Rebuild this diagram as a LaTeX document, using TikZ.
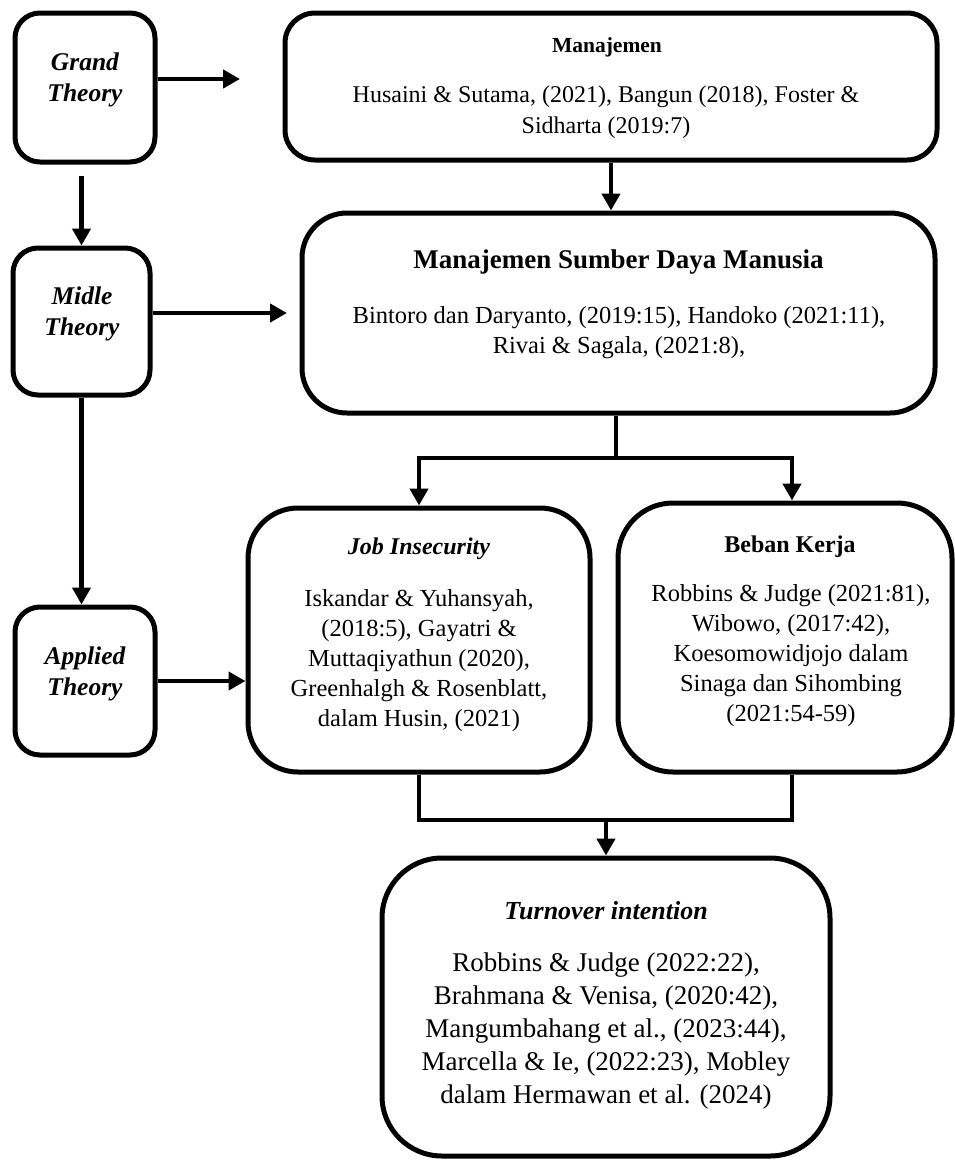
\documentclass[tikz,border=0pt]{standalone}
\usepackage{fontspec}
\setmainfont{Liberation Serif}
\usetikzlibrary{arrows.meta}
\begin{document}
\begin{tikzpicture}[x=1pt,y=-1pt,
  box/.style={draw, line width=5pt, rounded corners=#1, inner sep=0pt},
  box/.default=25pt,
  link/.style={line width=4.5pt},
  arrow/.style={line width=4.5pt, -{Triangle[length=17pt,width=18pt]}},
  theory/.style={align=center, inner sep=0pt, font=\fontsize{25.5}{31}\selectfont\bfseries\itshape},
  body/.style={align=center, inner sep=0pt, font=\fontsize{24.5}{30}\selectfont},
  head/.style={align=center, inner sep=0pt, font=\fontsize{24}{28}\selectfont\bfseries},
  headit/.style={align=center, inner sep=0pt, font=\fontsize{24}{28}\selectfont\bfseries\itshape}]
\useasboundingbox (0,0) rectangle (955,1160);

% boxes
\node[box=25pt, minimum width=140pt, minimum height=149pt] (grand) at (85,87.5) {};
\node[box=30pt, minimum width=652pt, minimum height=147pt] (mgmt) at (611,86.5) {};
\node[box=45pt, minimum width=633pt, minimum height=200pt] (sdm) at (618.5,313) {};
\node[box=25pt, minimum width=137pt, minimum height=147pt] (midle) at (81.5,321.5) {};
\node[box=25pt, minimum width=140pt, minimum height=148pt] (applied) at (85,681) {};
\node[box=50pt, minimum width=342pt, minimum height=264pt] (job) at (419,640) {};
\node[box=55pt, minimum width=334pt, minimum height=269pt] (beban) at (785,637.5) {};
\node[box=60pt, minimum width=448pt, minimum height=298pt] (turn) at (606,1007) {};

% texts
\node[theory] (grandT) at (85,80) {Grand\\Theory};
\node[theory] (midleT) at (82,314) {Midle\\Theory};
\node[theory] (appliedT) at (85,674) {Applied\\Theory};

\node[align=center, inner sep=0pt, font=\fontsize{21.5}{26}\selectfont\bfseries] (mgmtH) at (607,47) {Manajemen};
\node[body, font=\fontsize{24}{31}\selectfont] (mgmtB) at (606,112) {Husaini \& Sutama, (2021), Bangun (2018), Foster \&\\Sidharta (2019:7)};

\node[align=center, inner sep=0pt, font=\fontsize{27}{32}\selectfont\bfseries] (sdmH) at (618.5,262) {Manajemen Sumber Daya Manusia};
\node[body] (sdmB) at (619,333) {Bintoro dan Daryanto, (2019:15), Handoko (2021:11),\\Rivai \& Sagala, (2021:8),};

\node[headit] (jobH) at (419,549) {Job Insecurity};
\node[body] (jobB) at (419,661) {Iskandar \& Yuhansyah,\\(2018:5), Gayatri \&\\Muttaqiyathun (2020),\\Greenhalgh \& Rosenblatt,\\dalam Husin, (2021)};

\node[head] (bebanH) at (790,547) {Beban Kerja};
\node[body] (bebanB) at (791,656) {Robbins \& Judge (2021:81),\\Wibowo, (2017:42),\\Koesomowidjojo dalam\\Sinaga dan Sihombing\\(2021:54-59)};

\node[align=center, inner sep=0pt, font=\fontsize{26}{30}\selectfont\bfseries\itshape] (turnH) at (606,911) {Turnover intention};
\node[align=center, inner sep=0pt, font=\fontsize{27}{33}\selectfont] (turnB) at (606,1031) {Robbins \& Judge (2022:22),\\Brahmana \& Venisa, (2020:42),\\Mangumbahang et al., (2023:44),\\Marcella \& Ie, (2022:23), Mobley\\dalam Hermawan et al. (2024)};

% free arrow ends
\coordinate (ga) at (240,79);
\coordinate (ma) at (287,313);
\coordinate (split) at (616,458);
\coordinate (merge) at (606,820);

% connectors
\draw[arrow] (grand.east |- ga) -- (ga);
\draw[arrow, shorten <=11pt] (grand.south -| midle.north) -- (midle.north);
\draw[arrow] (midle.east |- ma) -- (ma);
\draw[arrow] (midle.south) -- (midle.south |- applied.north);
\draw[arrow] (applied.east) -- (applied.east -| job.west);
\draw[arrow] (mgmt.south) -- (mgmt.south |- sdm.north);
\draw[link] (sdm.south -| split) -- (split);
\draw[arrow] (split) -| (job.north);
\draw[arrow] (split) -| ([xshift=7pt]beban.north);
\draw[link] (job.south) |- (merge);
\draw[link] ([xshift=7pt]beban.south) |- (merge);
\draw[arrow] (merge) -- (turn.north);
\end{tikzpicture}
\end{document}
